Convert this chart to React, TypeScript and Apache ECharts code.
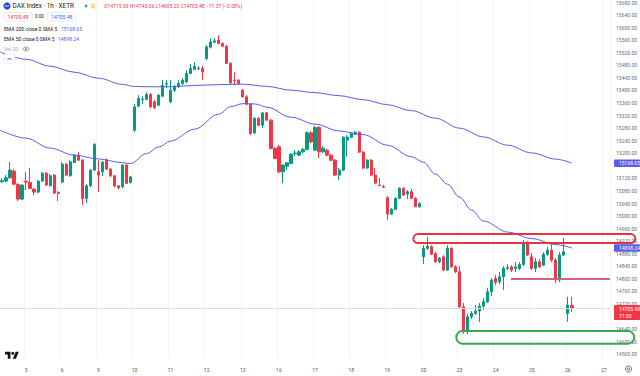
import React, { useEffect, useRef } from 'react';
import * as echarts from 'echarts';

// ---------- data ----------
const sessionDays = ['4', '5', '6', '9', '10', '11', '12', '13', '16', '17', '18', '19', '20', '23', '24', '25', '26', '27'];
const sessionHours = [9, 10, 11, 12, 13, 14, 15, 16, 17];
const firstDayStartHour = 12;
const lastDayBars = 2;

// [open, close, low, high]
const candles: number[][] = [
  [15109.8, 15113.0, 15105.0, 15120.9], [15111.4, 15121.9, 15108.2, 15130.5], [15121.9, 15146.4, 15119.3, 15172.8],
  [15143.2, 15101.8, 15098.7, 15149.6], [15100.9, 15054.1, 15047.7, 15105.0], [15054.1, 15098.7, 15050.9, 15101.8],
  [15111.4, 15108.2, 15082.8, 15140.0], [15107.3, 15088.2, 15085.9, 15153.7], [15085.9, 15076.4, 15066.9, 15089.1],
  [15076.4, 15111.4, 15073.2, 15114.6], [15111.4, 15136.8, 15108.2, 15140.0], [15136.8, 15098.7, 15095.5, 15140.0],
  [15096.5, 15128.3, 15093.9, 15133.7], [15130.5, 15073.2, 15070.0, 15133.7], [15075.4, 15072.3, 15047.7, 15079.6],
  [15108.2, 15165.5, 15105.0, 15171.8], [15165.5, 15130.5, 15127.3, 15168.7], [15128.3, 15172.8, 15125.7, 15178.2],
  [15170.9, 15194.1, 15168.7, 15197.3], [15194.1, 15178.2, 15175.0, 15203.7], [15178.2, 15056.3, 15035.0, 15181.4],
  [15056.3, 15096.5, 15041.4, 15101.8], [15096.5, 15146.4, 15092.3, 15149.6], [15146.4, 15228.2, 15143.2, 15232.3],
  [15141.0, 15130.5, 15076.4, 15178.2], [15141.0, 15171.8, 15127.3, 15175.0], [15178.2, 15149.6, 15146.4, 15183.6],
  [15149.6, 15128.3, 15124.1, 15152.8], [15128.3, 15096.5, 15092.3, 15130.5], [15096.5, 15090.1, 15085.0, 15098.7],
  [15093.3, 15162.3, 15089.1, 15165.5], [15162.3, 15104.1, 15101.8, 15165.5], [15107.3, 15125.1, 15104.1, 15127.3],
  [15273.7, 15347.8, 15267.3, 15356.4], [15350.0, 15374.5, 15346.8, 15385.0], [15371.3, 15372.3, 15356.4, 15381.8],
  [15371.3, 15387.3, 15369.1, 15394.6], [15387.3, 15347.8, 15343.7, 15391.4], [15363.7, 15345.9, 15340.5, 15369.1],
  [15353.2, 15385.0, 15350.0, 15388.2], [15381.8, 15416.9, 15378.7, 15432.8], [15420.0, 15421.6, 15407.3, 15432.8],
  [15363.7, 15400.9, 15359.6, 15432.8], [15400.9, 15411.4, 15394.6, 15416.9], [15411.4, 15422.3, 15407.3, 15432.8],
  [15422.3, 15432.8, 15416.9, 15439.1], [15427.4, 15454.1, 15423.2, 15464.6], [15454.1, 15470.0, 15451.8, 15483.7],
  [15466.8, 15477.3, 15464.6, 15490.0], [15470.0, 15471.0, 15464.6, 15477.3], [15470.0, 15459.2, 15432.8, 15477.3],
  [15501.8, 15538.7, 15496.4, 15544.1], [15537.7, 15554.6, 15533.6, 15566.4], [15553.7, 15557.8, 15550.5, 15566.4],
  [15560.0, 15549.5, 15547.3, 15575.9], [15549.5, 15540.9, 15537.7, 15553.7], [15540.9, 15485.9, 15483.7, 15544.1],
  [15485.9, 15424.2, 15420.0, 15490.0], [15432.8, 15431.2, 15416.9, 15458.2], [15432.8, 15422.3, 15420.0, 15435.9],
  [15400.9, 15379.6, 15378.7, 15404.1], [15379.6, 15356.4, 15353.2, 15385.0], [15356.4, 15263.2, 15257.7, 15359.6],
  [15265.1, 15310.9, 15260.9, 15315.0], [15310.9, 15289.6, 15286.4, 15315.0], [15289.6, 15328.7, 15280.0, 15331.0],
  [15328.7, 15305.5, 15302.3, 15331.0], [15305.5, 15215.4, 15213.2, 15308.7], [15215.4, 15183.6, 15181.4, 15219.6],
  [15220.5, 15141.0, 15136.8, 15225.9], [15141.0, 15162.3, 15105.0, 15165.5], [15159.1, 15169.6, 15146.4, 15171.8],
  [15167.7, 15197.3, 15165.5, 15200.5], [15199.5, 15200.5, 15190.9, 15210.0], [15194.1, 15204.6, 15190.9, 15210.0],
  [15204.6, 15212.2, 15200.5, 15216.4], [15212.2, 15265.1, 15210.0, 15270.5], [15265.1, 15236.4, 15232.3, 15270.5],
  [15210.0, 15282.3, 15206.8, 15286.4], [15282.3, 15204.6, 15184.6, 15286.4], [15204.6, 15216.4, 15200.5, 15222.8],
  [15210.0, 15194.1, 15190.9, 15213.2], [15194.1, 15178.2, 15175.0, 15197.3], [15178.2, 15130.5, 15127.3, 15181.4],
  [15130.5, 15146.4, 15114.6, 15152.8], [15146.4, 15251.4, 15143.2, 15254.6], [15241.9, 15251.4, 15188.7, 15257.7],
  [15251.4, 15264.1, 15248.2, 15267.3], [15260.9, 15267.3, 15257.7, 15270.5], [15267.3, 15203.7, 15200.5, 15270.5],
  [15203.7, 15152.8, 15149.6, 15206.8], [15152.8, 15178.2, 15149.6, 15181.4], [15178.2, 15130.5, 15127.3, 15181.4],
  [15130.5, 15105.0, 15101.8, 15152.8], [15098.7, 15097.1, 15095.5, 15120.9], [15093.9, 15092.3, 15089.1, 15098.7],
  [15058.3, 15006.4, 14987.3, 15063.7], [15006.4, 15021.3, 15003.2, 15025.5], [15021.3, 15056.3, 15019.1, 15060.5],
  [15056.3, 15088.2, 15054.1, 15092.3], [15088.2, 15066.9, 15063.7, 15092.3], [15070.0, 15077.4, 15054.1, 15082.8],
  [15077.4, 15056.3, 15054.1, 15085.9], [15056.3, 15029.6, 15028.6, 15060.5], [15029.6, 15040.4, 15027.1, 15044.6],
  [14870.5, 14897.3, 14847.3, 14907.8], [14897.3, 14904.6, 14891.8, 14934.2], [14902.3, 14879.1, 14875.9, 14907.8],
  [14881.3, 14854.6, 14850.5, 14885.5], [14854.6, 14866.4, 14850.5, 14869.6], [14870.5, 14828.2, 14825.0, 14875.9],
  [14828.2, 14897.3, 14825.0, 14907.8], [14897.3, 14838.7, 14834.6, 14901.4], [14838.7, 14822.8, 14818.7, 14844.1],
  [14822.8, 14711.4, 14707.3, 14840.9], [14711.4, 14631.9, 14625.0, 14723.2], [14631.9, 14679.6, 14624.6, 14688.2],
  [14679.6, 14690.4, 14672.3, 14697.7], [14690.4, 14697.7, 14685.0, 14716.9], [14697.7, 14713.7, 14662.7, 14723.2],
  [14713.7, 14727.4, 14700.9, 14739.1], [14727.4, 14759.2, 14723.2, 14771.0], [14759.2, 14796.4, 14745.5, 14802.7],
  [14801.8, 14789.1, 14780.5, 14812.3], [14791.0, 14806.9, 14783.7, 14821.8], [14806.9, 14833.6, 14764.6, 14840.9],
  [14833.6, 14836.8, 14828.2, 14847.3], [14838.7, 14828.2, 14821.8, 14844.1], [14833.6, 14838.7, 14821.8, 14853.6],
  [14833.6, 14846.3, 14828.2, 14853.6], [14846.3, 14913.2, 14840.9, 14923.7], [14913.2, 14875.9, 14872.7, 14920.5],
  [14870.5, 14833.6, 14828.2, 14882.3], [14833.6, 14854.6, 14821.8, 14866.4], [14854.6, 14838.7, 14834.6, 14863.2],
  [14844.1, 14878.2, 14840.9, 14885.5], [14878.2, 14891.8, 14872.7, 14901.4], [14891.8, 14860.0, 14853.6, 14911.0],
  [14860.0, 14796.4, 14786.8, 14866.4], [14796.4, 14875.9, 14790.0, 14885.5], [14875.9, 14886.4, 14872.7, 14930.0],
  [14690.4, 14716.9, 14663.7, 14743.3], [14715.93, 14705.48, 14695.23, 14743.06],
];

// [bar index, value]
const ema200: number[][] = [
  [-0.5, 15522.8], [6, 15499.3], [12, 15477.3], [18, 15458.2], [24, 15439.1], [30, 15419.4], [33, 15412.7],
  [36, 15411.8], [42, 15411.8], [48, 15415.9], [54, 15418.4], [60, 15420.0], [66, 15413.0], [72, 15400.9],
  [78, 15393.0], [84, 15383.4], [90, 15370.7], [96, 15354.8], [102, 15335.7], [108, 15311.8], [114, 15280.0],
  [120, 15252.0], [126, 15225.9], [132, 15201.1], [138, 15181.4], [142, 15168.65],
];
const ema50: number[][] = [
  [-0.5, 15273.7], [6, 15248.2], [12, 15216.4], [18, 15194.1], [24, 15182.0], [30, 15170.2], [32, 15167.1],
  [36, 15198.9], [39, 15219.6], [42, 15238.7], [48, 15276.8], [54, 15324.6], [57, 15348.4], [60, 15358.0],
  [63, 15357.0], [66, 15346.8], [72, 15315.0], [78, 15292.8], [84, 15271.1], [90, 15259.4], [96, 15225.9],
  [102, 15189.3], [105, 15171.8], [108, 15133.7], [111, 15101.8], [114, 15060.5], [117, 15019.1], [120, 14984.1],
  [126, 14949.1], [132, 14928.5], [138, 14909.3], [142, 14898.24],
];

// visible price-scale labels (those covered by the value badges are not shown in the reference)
const priceTicks = [15680, 15640, 15600, 15560, 15520, 15480, 15440, 15400, 15360, 15320, 15280, 15240, 15200,
  15120, 15080, 15040, 15000, 14960, 14920, 14880, 14840, 14800, 14760, 14720, 14640, 14600, 14560];

const lastPrice = 14705.48;
const ema200Last = 15168.65;
const ema50Last = 14898.24;
const countdown = '11:50';
const header = {
  title: 'DAX Index · 1h · XETR',
  ohlc: 'O14715.93 H14743.06 L14695.23 C14705.48 −11.37 (−0.08%)',
  ema200Label: 'EMA 200 close 0 SMA 5',
  ema50Label: 'EMA 50 close 0 SMA 5',
  volLabel: 'Vol 20',
};
const rayLevel = 14800;
const rayStartBar = 126.8;
const resistanceZone = { fromBar: 102.5, toBar: 157.8, high: 14943, low: 14914 };
const supportZone = { fromBar: 113.2, toBar: 157.5, high: 14634, low: 14594 };

const priceMin = 14548.3;
const priceMax = 15687.3;

// ---------- styles ----------
const UP = '#089981';
const DOWN = '#f23645';
const EMA_COLOR = '#5b5ce8';
const FONT = 'Roboto, sans-serif';

function buildCategories(): string[] {
  const cats: string[] = [];
  sessionDays.forEach((d, di) => {
    let hours = sessionHours;
    if (di === 0) hours = sessionHours.filter((h) => h >= firstDayStartHour);
    if (di === sessionDays.length - 1) hours = sessionHours.slice(0, lastDayBars);
    hours.forEach((h) => cats.push(`${d} ${h}:00`));
  });
  return cats;
}

const TV_LOGO = 'M14 22H7V11H0V4h14v18zM28 22h-8l7.5-18h8L28 22zM16 8a4 4 0 1 0 8 0a4 4 0 1 0-8 0z';
let logoRegistered = false;

export default function App() {
  const ref = useRef<HTMLDivElement>(null);

  useEffect(() => {
    document.body.style.margin = '0';
    if (!logoRegistered) {
      echarts.graphic.registerShape('tvlogo', echarts.graphic.extendPath(TV_LOGO, {}));
      logoRegistered = true;
    }
    const el = ref.current!;
    const chart = echarts.init(el, undefined, { renderer: 'svg' });
    const cats = buildCategories();
    const n = cats.length;
    const isDayStart = (_i: number, v: string) => / 9:00$/.test(v);

    chart.setOption({
      animation: false,
      textStyle: { fontFamily: FONT },
      grid: { left: 0, right: 27, top: 0, bottom: 18 },
      xAxis: [
        {
          type: 'category',
          data: cats,
          boundaryGap: true,
          axisLine: { show: false },
          axisTick: { show: false },
          axisLabel: {
            interval: isDayStart,
            formatter: (v: string) => v.split(' ')[0],
            fontSize: 5,
            color: '#50535e',
            margin: 9,
          },
          splitLine: { show: true, interval: isDayStart, lineStyle: { color: '#f3f4f6', width: 1 } },
        },
        { type: 'value', min: -0.5, max: n - 0.5, show: false },
      ],
      yAxis: {
        type: 'value',
        position: 'right',
        min: priceMin,
        max: priceMax,
        axisLine: { show: false },
        axisTick: { show: false },
        splitLine: { show: false },
        axisLabel: {
          customValues: priceTicks,
          formatter: (v: number) => v.toFixed(2),
          fontSize: 5,
          color: '#6b6e78',
          margin: 6,
        },
      },
      series: [
        {
          type: 'candlestick',
          xAxisIndex: 0,
          data: candles,
          barWidth: '68%',
          itemStyle: { color: UP, color0: DOWN, borderColor: UP, borderColor0: DOWN, borderWidth: 1 },
          markLine: {
            silent: true,
            symbol: 'none',
            label: { show: false },
            lineStyle: { color: '#dcdcdc', type: 'solid', width: 1 },
            data: [{ yAxis: lastPrice }],
          },
          z: 2,
        },
        {
          type: 'line',
          xAxisIndex: 1,
          data: ema200,
          smooth: 0.35,
          smoothMonotone: 'x',
          showSymbol: false,
          lineStyle: { color: EMA_COLOR, width: 1 },
          z: 3,
        },
        {
          type: 'line',
          xAxisIndex: 1,
          data: ema50,
          smooth: 0.35,
          smoothMonotone: 'x',
          showSymbol: false,
          lineStyle: { color: EMA_COLOR, width: 1 },
          z: 3,
        },
        {
          type: 'line',
          xAxisIndex: 1,
          data: [[rayStartBar, rayLevel], [n - 0.5, rayLevel]],
          showSymbol: false,
          lineStyle: { color: '#d0627f', width: 2 },
          z: 3,
        },
      ],
    });

    const W = chart.getWidth();
    const H = chart.getHeight();
    const axisX = W - 27;
    const pt = (bar: number, price: number) => chart.convertToPixel({ seriesIndex: 1 }, [bar, price]) as number[];
    const py = (price: number) => pt(0, price)[1];

    const zoneRect = (z: { fromBar: number; toBar: number; high: number; low: number }, color: string, r: number) => {
      const a = pt(z.fromBar, z.high);
      const b = pt(z.toBar, z.low);
      return {
        type: 'rect',
        z: 50,
        silent: true,
        shape: { x: a[0], y: a[1], width: b[0] - a[0], height: b[1] - a[1], r },
        style: { fill: 'none', stroke: color, lineWidth: 2 },
      };
    };

    const badge = (price: number, text: string, bg: string, extra?: string) => {
      const y = py(price);
      const h = extra ? 15 : 7.5;
      const top = y - 3.75;
      const els: any[] = [
        { type: 'rect', z: 60, shape: { x: axisX + 1, y: top, width: W - axisX - 1, height: h, r: 1 }, style: { fill: bg } },
        { type: 'text', z: 61, x: axisX + 6, y, style: { text, fill: '#ffffff', fontSize: 5, fontFamily: FONT, verticalAlign: 'middle' } },
      ];
      if (extra) {
        els.push({ type: 'text', z: 61, x: axisX + 6, y: y + 7, style: { text: extra, fill: '#ffffff', fontSize: 5, fontFamily: FONT, verticalAlign: 'middle' } });
      }
      return els;
    };

    const txt = (x: number, y: number, text: string, fill: string, fontSize: number, align = 'left') => ({
      type: 'text', z: 70, x, y,
      style: { text, fill, fontSize, fontFamily: FONT, verticalAlign: 'middle', align },
    });

    const graphics: any[] = [
      zoneRect(resistanceZone, '#e0363f', 5),
      zoneRect(supportZone, '#35a853', 6),
      ...badge(ema200Last, ema200Last.toFixed(2), EMA_COLOR),
      ...badge(ema50Last, ema50Last.toFixed(2), EMA_COLOR),
      ...badge(lastPrice, lastPrice.toFixed(2), DOWN, countdown),
      // header
      { type: 'circle', z: 70, shape: { cx: 7, cy: 6, r: 3.6 }, style: { fill: '#1f4fd6' } },
      { type: 'polyline', z: 71, shape: { points: [[5, 7], [6.3, 5], [7.6, 7], [9, 5]] }, style: { stroke: '#fff', lineWidth: 0.7, fill: 'none' } },
      txt(12.5, 6, header.title, '#131722', 6.4),
      { type: 'circle', z: 70, shape: { cx: 86, cy: 6, r: 1.4 }, style: { fill: '#22ab94' } },
      { type: 'rect', z: 70, shape: { x: 90, y: 2.5, width: 7, height: 7, r: 1 }, style: { fill: '#fff1dc' } },
      txt(93.5, 6.2, 'D', '#f7a600', 4.5, 'center'),
      txt(104, 6, header.ohlc, DOWN, 5),
      { type: 'rect', z: 70, shape: { x: 4, y: 12.5, width: 28, height: 8.5, r: 1.5 }, style: { fill: '#fff', stroke: '#d9dbe1', lineWidth: 0.6 } },
      txt(18, 16.8, lastPrice.toFixed(2), DOWN, 5, 'center'),
      txt(35, 16.8, '0.00', '#131722', 4.5),
      { type: 'rect', z: 70, shape: { x: 47.7, y: 12.5, width: 28.3, height: 8.5, r: 1.5 }, style: { fill: '#fff', stroke: '#d9dbe1', lineWidth: 0.6 } },
      txt(61.8, 16.8, lastPrice.toFixed(2), '#2962ff', 5, 'center'),
      txt(4, 29, header.ema200Label, '#131722', 5),
      txt(61, 29, ema200Last.toFixed(2), EMA_COLOR, 5),
      txt(4, 39, header.ema50Label, '#131722', 5),
      txt(58, 39, ema50Last.toFixed(2), EMA_COLOR, 5),
      txt(4, 49, header.volLabel, '#a3a6af', 5),
      { type: 'ellipse', z: 70, shape: { cx: 26, cy: 49, rx: 3, ry: 1.9 }, style: { fill: 'none', stroke: '#787b86', lineWidth: 0.7 } },
      { type: 'circle', z: 70, shape: { cx: 26, cy: 49, r: 0.9 }, style: { fill: '#787b86' } },
      { type: 'rect', z: 70, shape: { x: 4, y: 54, width: 11, height: 9, r: 1.5 }, style: { fill: '#fff', stroke: '#e0e3eb', lineWidth: 0.7 } },
      { type: 'polyline', z: 71, shape: { points: [[7.5, 60], [9.5, 58], [11.5, 60]] }, style: { stroke: '#131722', lineWidth: 0.7, fill: 'none' } },
      // TradingView logo and settings icon
      { type: 'tvlogo', z: 70, x: 5, y: 350.1, scaleX: 0.39, scaleY: 0.39, style: { fill: '#131722' } },
      { type: 'circle', z: 70, shape: { cx: W - 11.5, cy: H - 7, r: 3 }, style: { fill: 'none', stroke: '#50535e', lineWidth: 0.8 } },
      { type: 'circle', z: 70, shape: { cx: W - 11.5, cy: H - 7, r: 1.1 }, style: { fill: 'none', stroke: '#50535e', lineWidth: 0.8 } },
    ];

    chart.setOption({ graphic: graphics });

    return () => chart.dispose();
  }, []);

  return <div ref={ref} style={{ width: 640, height: 376 }} />;
}
